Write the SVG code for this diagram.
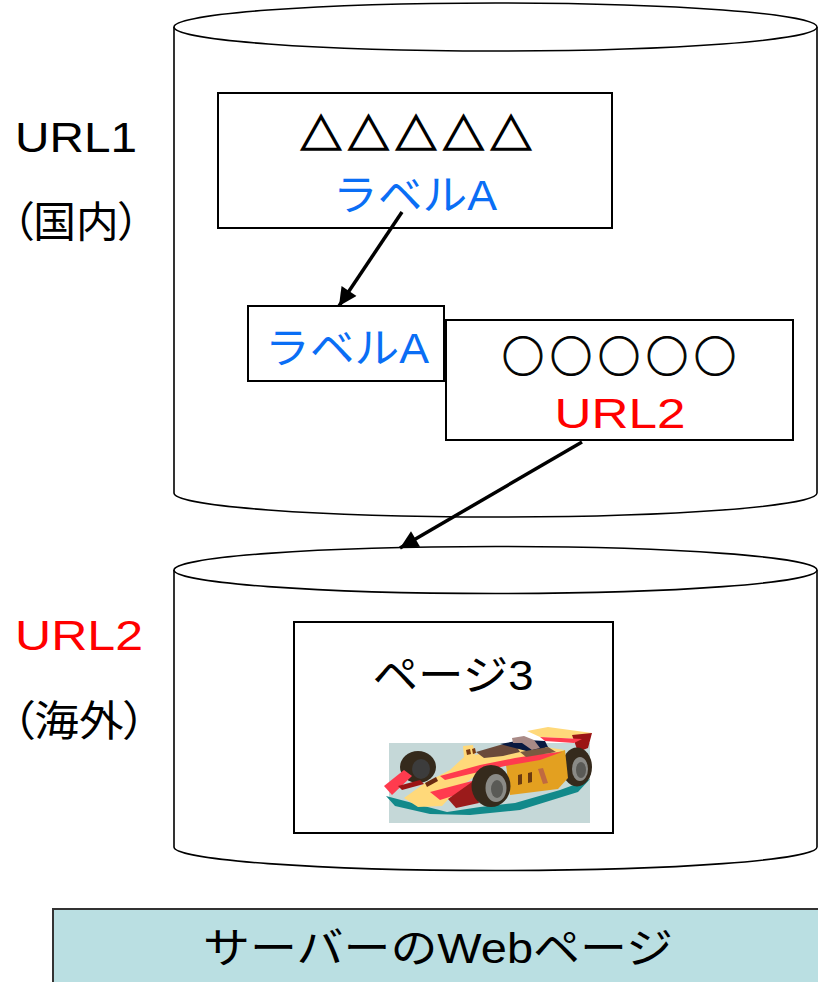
<svg xmlns="http://www.w3.org/2000/svg" width="818" height="982" viewBox="0 0 818 982">
  <style>
    text { font-family: "Liberation Sans", "Noto Sans CJK JP", sans-serif; font-size: 42px; fill: #000; }
    .jp { font-feature-settings: "palt"; }
    .sym { font-family: "Noto Sans CJK JP", sans-serif; }
    .blue { fill: #0A6EF5; }
    .red { fill: #FF0000; }
    .mid { text-anchor: middle; }
    .drum { fill: #fff; stroke: #000; stroke-width: 1.6; }
    .box { fill: #fff; stroke: #000; stroke-width: 2; }
    .link { stroke: #000; stroke-width: 3.5; fill: none; marker-end: url(#head); }
  </style>
  <defs>
    <marker id="head" viewBox="0 0 10 10" refX="10" refY="5" markerWidth="22" markerHeight="18" markerUnits="userSpaceOnUse" orient="auto">
      <path d="M0,0 L10,5 L0,10 z" fill="#000"/>
    </marker>
  </defs>

  <rect width="818" height="982" fill="#fff"/>

  <!-- domestic server -->
  <g id="server-url1">
    <path class="drum" d="M174,27 V493 A321.5,24 0 0 0 817,493 V27"/>
    <ellipse class="drum" cx="495.5" cy="27" rx="321.5" ry="24"/>
  </g>

  <!-- overseas server -->
  <g id="server-url2">
    <path class="drum" d="M174,570 V847 A321.5,23.5 0 0 0 817,847 V570"/>
    <ellipse class="drum" cx="495.5" cy="570" rx="321.5" ry="23.5"/>
  </g>

  <!-- side captions -->
  <g id="caption-url1">
    <text x="15" y="152" textLength="122" lengthAdjust="spacingAndGlyphs">URL1</text>
    <text class="jp" x="12" y="237" font-size="42" textLength="128" lengthAdjust="spacingAndGlyphs">（国内）</text>
  </g>
  <g id="caption-url2">
    <text class="red" x="15" y="650" textLength="128" lengthAdjust="spacingAndGlyphs">URL2</text>
    <text class="jp" x="12" y="736" font-size="42" textLength="134" lengthAdjust="spacingAndGlyphs">（海外）</text>
  </g>

  <!-- page 1 -->
  <g id="page1">
    <rect class="box" x="218" y="93" width="394" height="135"/>
    <text class="sym mid" x="416" y="150" font-size="44" stroke="#000" stroke-width="1.6" textLength="232" lengthAdjust="spacing">△△△△△</text>
    <text class="blue mid" x="415" y="210" textLength="164" lengthAdjust="spacingAndGlyphs">ラベルA</text>
  </g>

  <!-- anchor label -->
  <g id="anchor-label">
    <rect class="box" x="248" y="306" width="196" height="75"/>
    <text class="blue mid" x="347" y="363" textLength="164" lengthAdjust="spacingAndGlyphs">ラベルA</text>
  </g>

  <!-- page 2 -->
  <g id="page2">
    <rect class="box" x="446" y="320" width="347" height="120"/>
    <text class="sym mid" x="619" y="372" font-size="44" stroke="#000" stroke-width="1" textLength="234" lengthAdjust="spacing">○○○○○</text>
    <text class="red mid" x="620" y="428" textLength="131" lengthAdjust="spacingAndGlyphs">URL2</text>
  </g>

  <!-- page 3 -->
  <g id="page3">
    <rect class="box" x="294" y="622" width="319" height="211"/>
    <text class="mid" x="453" y="690" textLength="161" lengthAdjust="spacingAndGlyphs">ページ3</text>
    <!-- race car clip art -->
    <g id="race-car">
      <rect x="389" y="743" width="201" height="80" fill="#C5D8D8"/>
      <!-- ground shadow -->
      <path d="M386,796 L420,805 L447,812 L480,807 L515,803 L560,790 L590,779 L578,792 L520,810 L470,815 L430,814 L395,806 Z" fill="#12898A"/>
      <!-- rear wing -->
      <path d="M527,731 L548,727 L592,733 L582,739 L540,737 Z" fill="#FFD97A"/>
      <path d="M572,735 L592,733 L588,748 L578,752 Z" fill="#9B1414"/>
      <path d="M540,737 L582,739 L574,743 L545,741 Z" fill="#FF3B4E"/>
      <path d="M528,740 L545,741 L552,755 L536,752 Z" fill="#0A1A40"/>
      <!-- far front wheel -->
      <ellipse cx="418" cy="767" rx="18" ry="16" fill="#352A1C"/>
      <ellipse cx="421" cy="769" rx="9" ry="10" fill="#3C3C3C"/>
      <!-- rear wheel -->
      <ellipse cx="577" cy="767" rx="15" ry="19.5" fill="#352A1C"/>
      <ellipse cx="580" cy="769" rx="8" ry="12" fill="#8A8A86"/>
      <ellipse cx="581" cy="770" rx="5" ry="8" fill="#5A5A56"/>
      <!-- side pod -->
      <path d="M506,765 L565,750 L568,778 L558,789 L510,795 Z" fill="#E3A020"/>
      <path d="M518,775 L522,774 L522,784 L518,785 Z M528,773 L532,772 L532,782 L528,783 Z" fill="#6A3A10"/>
      <path d="M538,769 L543,768 L548,783 L543,784 Z" fill="#C06A40"/>
      <!-- main body -->
      <path d="M404,798 L425,783 L450,770 L464,757 L463,746 L473,745 L475,755 L497,750 L520,745 L545,747 L565,750 L506,765 L472,778 L456,791 L442,806 L418,807 Z" fill="#FFD97A"/>
      <path d="M440,776 L480,765 L515,758 L540,754 L562,752 L540,760 L505,766 L470,774 L445,780 Z" fill="#FF3B4E"/>
      <!-- nose detail -->
      <path d="M425,783 L436,777 L438,781 L427,787 Z" fill="#6A2A10"/>
      <path d="M466,750 L470,749 L471,754 L467,755 Z M472,749 L475,748 L476,753 L473,754 Z" fill="#7A3A10"/>
      <!-- cockpit and driver -->
      <path d="M476,752 L500,745 L515,744 L520,752 L503,756 L484,758 Z" fill="#6B4A3A"/>
      <path d="M500,744 L522,740 L540,742 L548,750 L530,752 L515,748 Z" fill="#0A1A40"/>
      <path d="M512,738 L524,736 L534,740 L540,748 L532,750 L522,743 L513,743 Z" fill="#A98A86"/>
      <path d="M520,752 L548,747 L556,752 L526,757 Z" fill="#7A5A40"/>
      <!-- front wings -->
      <path d="M384,786 L404,770 L412,776 L392,795 Z" fill="#FF3B4E"/>
      <path d="M398,786 L420,780 L424,784 L402,790 Z" fill="#9B1414"/>
      <path d="M430,792 L472,781 L478,788 L440,800 Z" fill="#FF3B4E"/>
      <path d="M448,799 L472,782 L479,803 L456,808 Z" fill="#9B1B1B"/>
      <!-- near front wheel -->
      <ellipse cx="491" cy="786" rx="19.5" ry="21" fill="#352A1C"/>
      <ellipse cx="496" cy="788" rx="10.5" ry="14" fill="#8A8A86"/>
      <ellipse cx="497" cy="789" rx="6" ry="9" fill="#5A5A56"/>
    </g>
  </g>

  <!-- links -->
  <g id="links">
    <line class="link" x1="402" y1="212" x2="339" y2="306"/>
    <line class="link" x1="582" y1="442" x2="400" y2="548"/>
  </g>

  <!-- footer -->
  <g id="footer">
    <rect x="53" y="909" width="780" height="100" fill="#BADFE2" stroke="#333" stroke-width="2"/>
    <text class="mid" x="438" y="963" textLength="470" lengthAdjust="spacingAndGlyphs">サーバーのWebページ</text>
  </g>
</svg>
